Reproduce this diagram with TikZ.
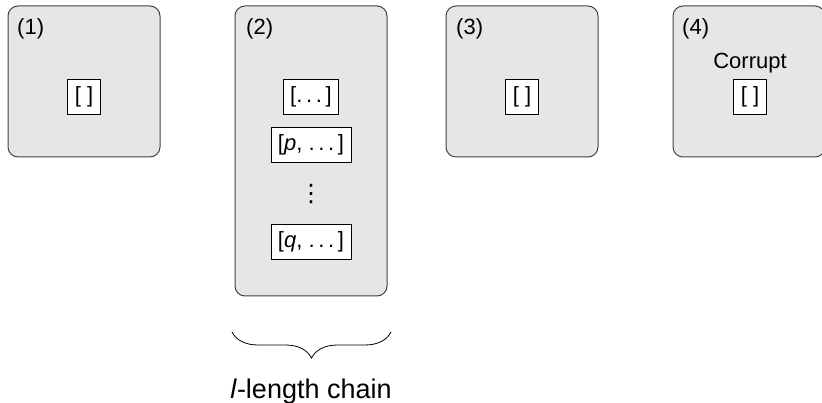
\documentclass[tikz,border=0pt]{standalone}
\usepackage{fontspec}
\setmainfont{Liberation Sans}
\newfontfamily\dvsans{DejaVu Sans}
\usetikzlibrary{decorations.pathreplacing}
\definecolor{panelfill}{HTML}{E6E6E6}
\definecolor{panelline}{HTML}{444444}
\tikzset{
  panel/.style={draw=panelline, fill=panelfill, line width=1pt, rounded corners=10pt},
  listbox/.style={draw=black, fill=white, line width=0.8pt, font=\fontsize{22}{26}\selectfont,
    inner xsep=7pt, inner ysep=7pt, text height=16pt, text depth=5pt},
  tag/.style={anchor=base west, inner sep=0pt, font=\fontsize{22}{26}\selectfont},
  lbl/.style={anchor=base, inner sep=0pt, font=\fontsize{22}{26}\selectfont},
}
\begin{document}
\begin{tikzpicture}[x=1pt,y=-1pt]
\useasboundingbox (0,0) rectangle (822,403);
\begin{scope}
\clip (0,0) rectangle (822,403);
\draw[panel] (8,6) rectangle (160,157);
\draw[panel] (235,6) rectangle (387,296);
\draw[panel] (446,6) rectangle (598,157);
\draw[panel] (673,6) rectangle (825,157);
\end{scope}
% labels
\node[tag] (t1) at (17,35) {(1)};
\node[tag] (t2) at (246,35) {(2)};
\node[tag] (t3) at (456,35) {(3)};
\node[tag] (t4) at (682,35) {(4)};
\node[lbl] (cor) at (750,69) {Corrupt};
% inner boxes
\node[listbox] (b1) at (84,97) {[ ]};
\node[listbox] (b2a) at (311,97) {[.\,.\,.\,]};
\node[listbox] (b2b) at (311,145) {[\textit{p}, .\,.\,.\,]};
\node[inner sep=0pt, font=\dvsans\fontsize{24}{28}\selectfont] (vd) at (311,194) {⋮};
\node[listbox] (b2c) at (311,242) {[\textit{q}, .\,.\,.\,]};
\node[listbox] (b3) at (522,97) {[ ]};
\node[listbox] (b4) at (750,97) {[ ]};
% brace
\coordinate (bl) at (232,332);
\coordinate (br) at (391,332);
\draw[line width=0.8pt, decorate, decoration={brace, amplitude=26pt, mirror}] (bl) -- (br);
\node[anchor=base, inner sep=0pt, font=\fontsize{27}{32}\selectfont] (cap) at (311,398) {\textit{l}-length chain};
\end{tikzpicture}
\end{document}
